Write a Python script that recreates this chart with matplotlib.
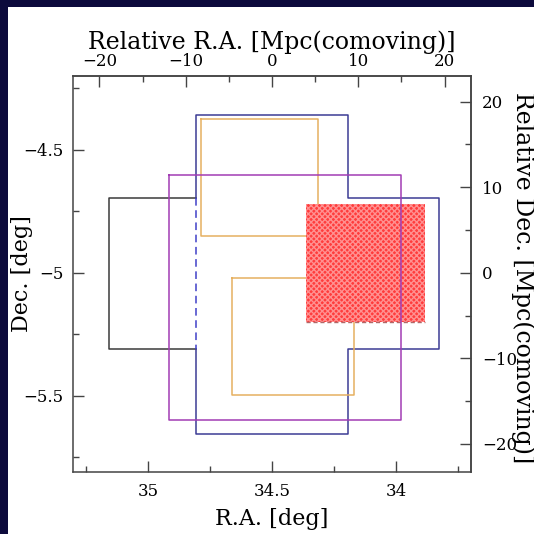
import numpy as np
import matplotlib
matplotlib.use('Agg')
import matplotlib.pyplot as plt
from matplotlib.ticker import MultipleLocator, FuncFormatter
from matplotlib.patches import Rectangle

# field outlines, R.A. / Dec. in degrees
black_ra = [34.806, 35.157, 35.157, 34.806]
black_dec = [-4.695, -4.695, -5.31, -5.31]

blue_ra = [34.806, 34.806, 34.194, 34.194, 33.827, 33.827, 34.194, 34.194, 34.806, 34.806]
blue_dec = [-4.695, -4.358, -4.358, -4.695, -4.695, -5.31, -5.31, -5.655, -5.655, -5.31]
blue_dash_ra = [34.806, 34.806]
blue_dash_dec = [-4.695, -5.31]

magenta_ra = [34.915, 33.980]
magenta_dec = [-4.602, -5.598]

orange_up_ra = [34.786, 34.315]
orange_up_dec = [-4.374, -4.850]
orange_lo_ra = [34.661, 34.169]
orange_lo_dec = [-5.020, -5.496]

red_ra = [34.363, 33.883]
red_dec = [-4.720, -5.199]

ra0, dec0 = 34.5, -5.0
mpc_per_deg = 28.75

navy = '#0c0a3c'
plt.rcParams['font.family'] = 'DejaVu Serif'
plt.rcParams['axes.unicode_minus'] = True

fig = plt.figure(figsize=(5.34, 5.34), dpi=100, facecolor=navy)
fig.patches.append(Rectangle((8 / 534, 0), 1, 527 / 534, transform=fig.transFigure,
                             facecolor='white', edgecolor='none', zorder=-10))
ax = fig.add_axes([73 / 534, 62 / 534, 398 / 534, 396 / 534])


def box(ra, dec):
    return [ra[0], ra[1], ra[1], ra[0], ra[0]], [dec[0], dec[0], dec[1], dec[1], dec[0]]


lw = 1.1
ax.plot(black_ra, black_dec, color='#3a3a3a', lw=lw, zorder=2)
ax.plot(blue_ra, blue_dec, color='#3c3c94', lw=lw, zorder=2)
ax.plot(blue_dash_ra, blue_dash_dec, color='#4040c8', lw=lw, ls=(0, (5, 3)), zorder=2)
for ra, dec in [(orange_up_ra, orange_up_dec), (orange_lo_ra, orange_lo_dec)]:
    x, y = box(ra, dec)
    ax.plot(x, y, color='#e6b060', lw=lw, zorder=2)

red = Rectangle((red_ra[0], red_dec[1]), red_ra[1] - red_ra[0], red_dec[0] - red_dec[1],
                facecolor='#ff3c3c', edgecolor='#ff9090', hatch='xxxxxx', lw=0, zorder=3)
ax.add_patch(red)
ax.plot(red_ra, [red_dec[1], red_dec[1]], color='#b06868', lw=1, ls=(0, (3, 2)), zorder=3)

x, y = box(magenta_ra, magenta_dec)
ax.plot(x, y, color='#a23cb4', lw=lw, zorder=4)

ax.set_xlim(35.302, 33.698)
ax.set_ylim(-5.81, -4.2)

fmt = FuncFormatter(lambda v, p: ('%g' % v).replace('-', '\u2212'))
ax.xaxis.set_major_locator(MultipleLocator(0.5))
ax.xaxis.set_minor_locator(MultipleLocator(0.25))
ax.yaxis.set_major_locator(MultipleLocator(0.5))
ax.yaxis.set_minor_locator(MultipleLocator(0.25))
ax.xaxis.set_major_formatter(fmt)
ax.yaxis.set_major_formatter(fmt)
ax.tick_params(which='both', direction='in', top=False, right=False, color='#444444',
               labelsize=12)
ax.tick_params(which='major', length=8, width=1)
ax.tick_params(which='minor', length=4, width=1)
ax.tick_params(axis='x', pad=8)
ax.tick_params(axis='y', pad=7)
for s in ax.spines.values():
    s.set_color('#444444')
    s.set_linewidth(1.1)

ax.set_xlabel('R.A. [deg]', fontsize=16, labelpad=6)
ax.set_ylabel('Dec. [deg]', fontsize=16)
ax.yaxis.set_label_coords(-0.1, 0.5)

secx = ax.secondary_xaxis('top', functions=(lambda r: (ra0 - r) * mpc_per_deg,
                                             lambda m: ra0 - m / mpc_per_deg))
secy = ax.secondary_yaxis('right', functions=(lambda d: (d - dec0) * mpc_per_deg,
                                               lambda m: dec0 + m / mpc_per_deg))
for sec, axis in [(secx, secx.xaxis), (secy, secy.yaxis)]:
    axis.set_major_locator(MultipleLocator(10))
    axis.set_minor_locator(MultipleLocator(5))
    axis.set_major_formatter(fmt)
    sec.tick_params(which='both', direction='in', color='#444444', labelsize=12)
    sec.tick_params(which='major', length=8, width=1)
    sec.tick_params(which='minor', length=4, width=1)
    for s in sec.spines.values():
        s.set_color('#444444')
        s.set_linewidth(1.1)
secx.tick_params(pad=4)
secy.tick_params(pad=8)
secx.set_xlabel('Relative R.A. [Mpc(comoving)]', fontsize=17, labelpad=3)
secy.set_ylabel('Relative Dec. [Mpc(comoving)]', fontsize=17, rotation=270, va='center')
secy.yaxis.set_label_coords(1.13, 0.49, transform=ax.transAxes)

fig.savefig('out.png', dpi=100, facecolor=navy)
